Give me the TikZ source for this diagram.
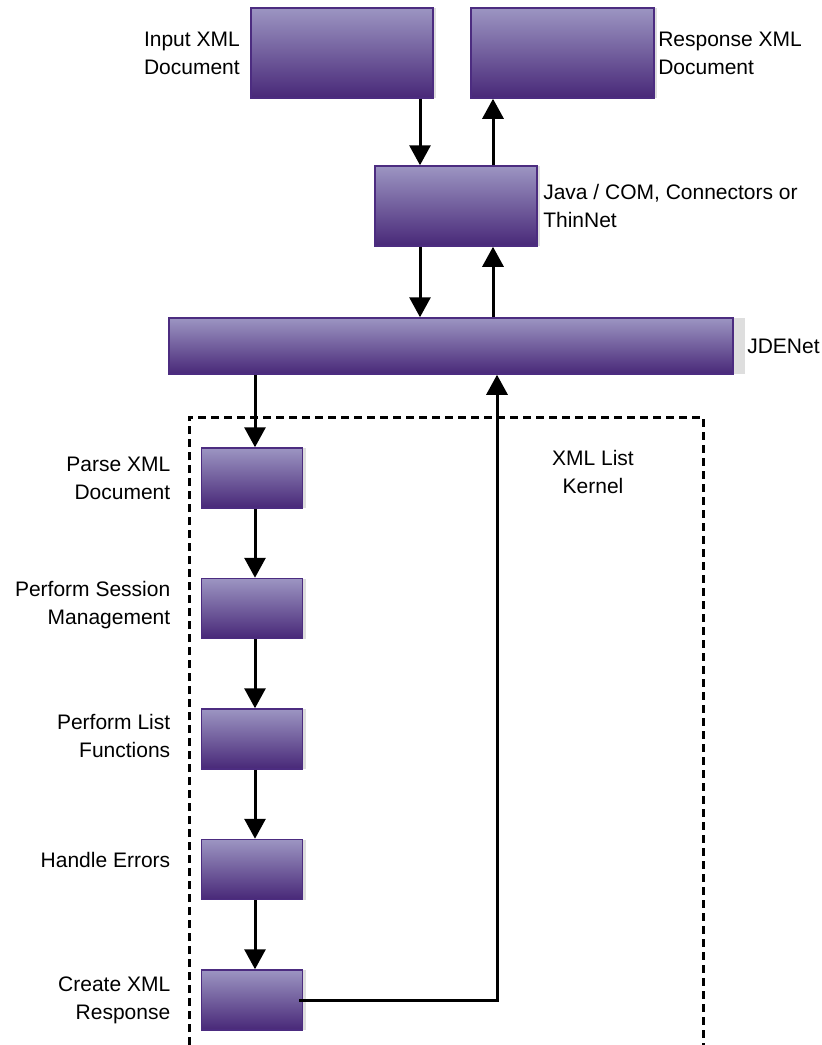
\documentclass[tikz,border=0pt]{standalone}
\usepackage{fontspec}
\setmainfont{Liberation Sans}
\usetikzlibrary{positioning,arrows.meta,shadows}
\definecolor{boxtop}{RGB}{156,149,194}
\definecolor{boxbot}{RGB}{72,40,120}
\definecolor{boxedge}{RGB}{76,44,128}
\definecolor{shade}{RGB}{222,222,222}

\begin{document}
\begin{tikzpicture}[x=1pt,y=-1pt,node distance=130.5pt,on grid,line width=3pt,
		>={Triangle[width=21pt,length=20pt]},
		box/.style={draw=boxedge,line width=1.5pt,top color=boxtop,bottom color=boxbot,inner sep=0pt,
			drop shadow={shadow xshift=3pt,shadow yshift=0pt,fill=shade,opacity=1}},
		sbox/.style={box,minimum width=101pt,minimum height=60pt},
		lbl/.style={font=\fontsize{21}{28}\selectfont,inner sep=0pt}]
		\useasboundingbox (0,0) rectangle (822,1045);

		% kernel frame
		\coordinate (k_bl) at (189,1045);
		\coordinate (k_tl) at (189,417);
		\coordinate (k_tr) at (703,417);
		\coordinate (k_br) at (703,1045);
		\draw[dash pattern=on 8pt off 5pt] (k_bl) -- (k_tl) -- (k_tr) -- (k_br);

		\node[box,minimum width=182pt,minimum height=90pt] (in) at (342,53) {};
		\node[box,minimum width=183pt,minimum height=90pt] (resp) at (562.5,53) {};
		\node[box,minimum width=162pt,minimum height=80pt] (java) at (456,206) {};
		\node[box,minimum width=564pt,minimum height=56pt,
			drop shadow={shadow xshift=12pt,shadow yshift=0pt,fill=shade,opacity=1}] (jde) at (451,346) {};

		\node[sbox] (parse) at (252,478) {};
		\node[sbox] (sess) [below=of parse] {};
		\node[sbox] (list) [below=of sess] {};
		\node[sbox] (err) [below=of list] {};
		\node[sbox] (create) [below=of err] {};

		% labels
		\node[lbl,anchor=east,align=right] (in_l) at ([xshift=-9pt]in.west) {Input XML\\Document};
		\node[lbl,anchor=west,align=left] (resp_l) at ([xshift=2pt]resp.east) {Response XML\\Document};
		\node[lbl,anchor=west,align=left] (java_l) at ([xshift=4pt]java.east) {Java / COM, Connectors or\\ThinNet};
		\node[lbl,anchor=west] (jde_l) at ([xshift=12pt]jde.east) {JDENet};
		\node[lbl,align=center] (kernel_l) at (593,472) {XML List\\Kernel};
		\node[lbl,anchor=east,align=right] (parse_l) at ([xshift=-29pt]parse.west) {Parse XML\\Document};
		\node[lbl,anchor=east,align=right] (sess_l) at ([xshift=-29pt,yshift=3pt]sess.west) {Perform Session\\Management};
		\node[lbl,anchor=east,align=right] (list_l) at ([xshift=-29pt,yshift=3pt]list.west) {Perform List\\Functions};
		\node[lbl,anchor=east,align=right] (err_l) at ([xshift=-29pt,yshift=10pt]err.west) {Handle Errors};
		\node[lbl,anchor=east,align=right] (create_l) at ([xshift=-29pt]create.west) {Create XML\\Response};

		% connectors
		\draw[->] ([xshift=-36pt]java.north |- in.south) -- ([xshift=-36pt]java.north);
		\draw[->] ([xshift=37pt]java.north) -- ([xshift=37pt]java.north |- resp.south);
		\draw[->] ([xshift=-36pt]java.south) -- ([xshift=-36pt]java.south |- jde.north);
		\draw[->] ([xshift=37pt]java.south |- jde.north) -- ([xshift=37pt]java.south);
		\draw[->] ([xshift=3pt]parse.north |- jde.south) -- ([xshift=3pt]parse.north);
		\draw[->] ([xshift=3pt]parse.south) -- ([xshift=3pt]sess.north);
		\draw[->] ([xshift=3pt]sess.south) -- ([xshift=3pt]list.north);
		\draw[->] ([xshift=3pt]list.south) -- ([xshift=3pt]err.north);
		\draw[->] ([xshift=3pt]err.south) -- ([xshift=3pt]create.north);
		\draw[->] ([xshift=-4pt]create.east) -| ([xshift=46pt]jde.south);
	\end{tikzpicture}
\end{document}
